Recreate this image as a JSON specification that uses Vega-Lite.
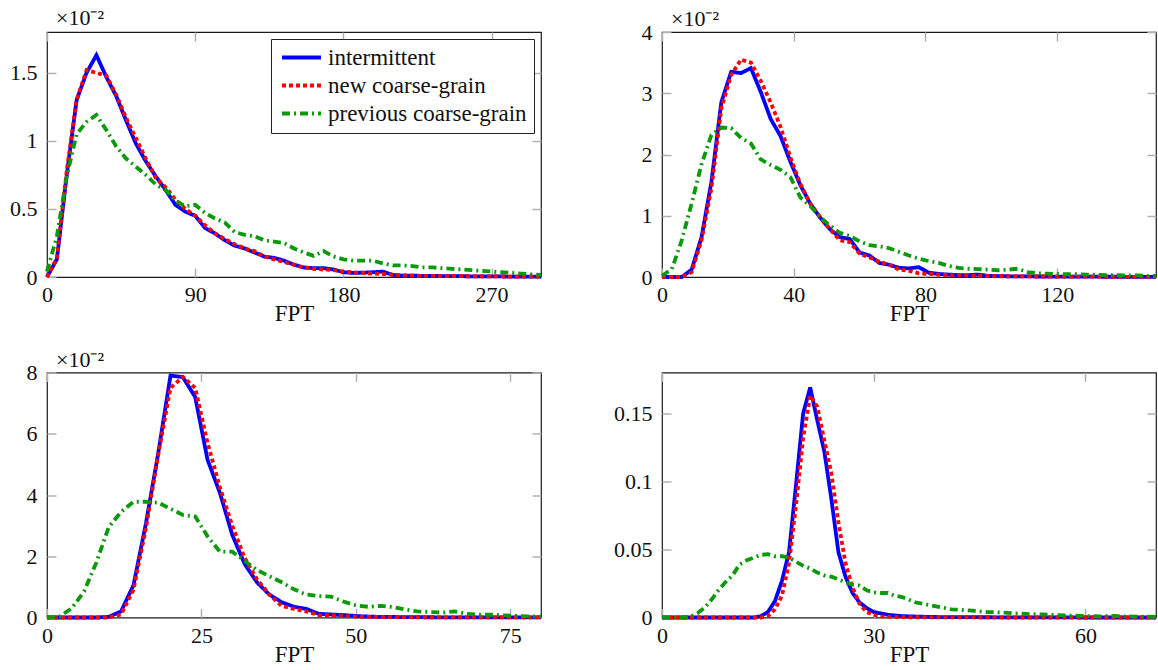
{
"$schema": "https://vega.github.io/schema/vega-lite/v6.json",
"padding": {"left": 8, "top": 6, "right": 0, "bottom": 0},
"datasets": {
"tl": [
{"series":"intermittent","FPT":0,"density":0},{"series":"intermittent","FPT":6,"density":0.13},{"series":"intermittent","FPT":12,"density":0.75},{"series":"intermittent","FPT":18,"density":1.3},{"series":"intermittent","FPT":24,"density":1.5},{"series":"intermittent","FPT":30,"density":1.63},{"series":"intermittent","FPT":36,"density":1.47},{"series":"intermittent","FPT":42,"density":1.33},{"series":"intermittent","FPT":48,"density":1.15},{"series":"intermittent","FPT":54,"density":0.98},{"series":"intermittent","FPT":60,"density":0.85},{"series":"intermittent","FPT":66,"density":0.74},{"series":"intermittent","FPT":72,"density":0.64},{"series":"intermittent","FPT":78,"density":0.53},{"series":"intermittent","FPT":84,"density":0.48},{"series":"intermittent","FPT":90,"density":0.45},{"series":"intermittent","FPT":96,"density":0.36},{"series":"intermittent","FPT":102,"density":0.32},{"series":"intermittent","FPT":108,"density":0.27},{"series":"intermittent","FPT":114,"density":0.23},{"series":"intermittent","FPT":120,"density":0.21},{"series":"intermittent","FPT":126,"density":0.18},{"series":"intermittent","FPT":132,"density":0.15},{"series":"intermittent","FPT":138,"density":0.14},{"series":"intermittent","FPT":144,"density":0.12},{"series":"intermittent","FPT":150,"density":0.09},{"series":"intermittent","FPT":156,"density":0.07},{"series":"intermittent","FPT":162,"density":0.065},{"series":"intermittent","FPT":168,"density":0.065},{"series":"intermittent","FPT":174,"density":0.055},{"series":"intermittent","FPT":180,"density":0.035},{"series":"intermittent","FPT":186,"density":0.03},{"series":"intermittent","FPT":192,"density":0.032},{"series":"intermittent","FPT":198,"density":0.035},{"series":"intermittent","FPT":204,"density":0.04},{"series":"intermittent","FPT":210,"density":0.015},{"series":"intermittent","FPT":216,"density":0.01},{"series":"intermittent","FPT":222,"density":0.01},{"series":"intermittent","FPT":228,"density":0.008},{"series":"intermittent","FPT":234,"density":0.008},{"series":"intermittent","FPT":240,"density":0.007},{"series":"intermittent","FPT":246,"density":0.006},{"series":"intermittent","FPT":252,"density":0.006},{"series":"intermittent","FPT":258,"density":0.005},{"series":"intermittent","FPT":264,"density":0.005},{"series":"intermittent","FPT":270,"density":0.004},{"series":"intermittent","FPT":276,"density":0.004},{"series":"intermittent","FPT":282,"density":0.003},{"series":"intermittent","FPT":288,"density":0.003},{"series":"intermittent","FPT":294,"density":0.003},{"series":"intermittent","FPT":300,"density":0.002},
{"series":"new coarse-grain","FPT":0,"density":0},{"series":"new coarse-grain","FPT":6,"density":0.14},{"series":"new coarse-grain","FPT":12,"density":0.78},{"series":"new coarse-grain","FPT":18,"density":1.3},{"series":"new coarse-grain","FPT":24,"density":1.52},{"series":"new coarse-grain","FPT":30,"density":1.5},{"series":"new coarse-grain","FPT":36,"density":1.48},{"series":"new coarse-grain","FPT":42,"density":1.34},{"series":"new coarse-grain","FPT":48,"density":1.17},{"series":"new coarse-grain","FPT":54,"density":1.02},{"series":"new coarse-grain","FPT":60,"density":0.87},{"series":"new coarse-grain","FPT":66,"density":0.73},{"series":"new coarse-grain","FPT":72,"density":0.66},{"series":"new coarse-grain","FPT":78,"density":0.57},{"series":"new coarse-grain","FPT":84,"density":0.5},{"series":"new coarse-grain","FPT":90,"density":0.45},{"series":"new coarse-grain","FPT":96,"density":0.38},{"series":"new coarse-grain","FPT":102,"density":0.32},{"series":"new coarse-grain","FPT":108,"density":0.28},{"series":"new coarse-grain","FPT":114,"density":0.24},{"series":"new coarse-grain","FPT":120,"density":0.21},{"series":"new coarse-grain","FPT":126,"density":0.19},{"series":"new coarse-grain","FPT":132,"density":0.15},{"series":"new coarse-grain","FPT":138,"density":0.13},{"series":"new coarse-grain","FPT":144,"density":0.11},{"series":"new coarse-grain","FPT":150,"density":0.09},{"series":"new coarse-grain","FPT":156,"density":0.07},{"series":"new coarse-grain","FPT":162,"density":0.06},{"series":"new coarse-grain","FPT":168,"density":0.055},{"series":"new coarse-grain","FPT":174,"density":0.05},{"series":"new coarse-grain","FPT":180,"density":0.04},{"series":"new coarse-grain","FPT":186,"density":0.035},{"series":"new coarse-grain","FPT":192,"density":0.03},{"series":"new coarse-grain","FPT":198,"density":0.025},{"series":"new coarse-grain","FPT":204,"density":0.022},{"series":"new coarse-grain","FPT":210,"density":0.018},{"series":"new coarse-grain","FPT":216,"density":0.012},{"series":"new coarse-grain","FPT":222,"density":0.01},{"series":"new coarse-grain","FPT":228,"density":0.008},{"series":"new coarse-grain","FPT":234,"density":0.008},{"series":"new coarse-grain","FPT":240,"density":0.007},{"series":"new coarse-grain","FPT":246,"density":0.006},{"series":"new coarse-grain","FPT":252,"density":0.006},{"series":"new coarse-grain","FPT":258,"density":0.005},{"series":"new coarse-grain","FPT":264,"density":0.005},{"series":"new coarse-grain","FPT":270,"density":0.004},{"series":"new coarse-grain","FPT":276,"density":0.004},{"series":"new coarse-grain","FPT":282,"density":0.003},{"series":"new coarse-grain","FPT":288,"density":0.003},{"series":"new coarse-grain","FPT":294,"density":0.003},{"series":"new coarse-grain","FPT":300,"density":0.002},
{"series":"previous coarse-grain","FPT":0,"density":0.04},{"series":"previous coarse-grain","FPT":6,"density":0.3},{"series":"previous coarse-grain","FPT":12,"density":0.74},{"series":"previous coarse-grain","FPT":18,"density":1.05},{"series":"previous coarse-grain","FPT":24,"density":1.14},{"series":"previous coarse-grain","FPT":30,"density":1.19},{"series":"previous coarse-grain","FPT":36,"density":1.08},{"series":"previous coarse-grain","FPT":42,"density":0.96},{"series":"previous coarse-grain","FPT":48,"density":0.87},{"series":"previous coarse-grain","FPT":54,"density":0.81},{"series":"previous coarse-grain","FPT":60,"density":0.75},{"series":"previous coarse-grain","FPT":66,"density":0.68},{"series":"previous coarse-grain","FPT":72,"density":0.64},{"series":"previous coarse-grain","FPT":78,"density":0.56},{"series":"previous coarse-grain","FPT":84,"density":0.52},{"series":"previous coarse-grain","FPT":90,"density":0.53},{"series":"previous coarse-grain","FPT":96,"density":0.47},{"series":"previous coarse-grain","FPT":102,"density":0.43},{"series":"previous coarse-grain","FPT":108,"density":0.4},{"series":"previous coarse-grain","FPT":114,"density":0.33},{"series":"previous coarse-grain","FPT":120,"density":0.31},{"series":"previous coarse-grain","FPT":126,"density":0.3},{"series":"previous coarse-grain","FPT":132,"density":0.27},{"series":"previous coarse-grain","FPT":138,"density":0.26},{"series":"previous coarse-grain","FPT":144,"density":0.25},{"series":"previous coarse-grain","FPT":150,"density":0.21},{"series":"previous coarse-grain","FPT":156,"density":0.18},{"series":"previous coarse-grain","FPT":162,"density":0.155},{"series":"previous coarse-grain","FPT":168,"density":0.19},{"series":"previous coarse-grain","FPT":174,"density":0.15},{"series":"previous coarse-grain","FPT":180,"density":0.13},{"series":"previous coarse-grain","FPT":186,"density":0.12},{"series":"previous coarse-grain","FPT":192,"density":0.12},{"series":"previous coarse-grain","FPT":198,"density":0.12},{"series":"previous coarse-grain","FPT":204,"density":0.1},{"series":"previous coarse-grain","FPT":210,"density":0.085},{"series":"previous coarse-grain","FPT":216,"density":0.085},{"series":"previous coarse-grain","FPT":222,"density":0.08},{"series":"previous coarse-grain","FPT":228,"density":0.07},{"series":"previous coarse-grain","FPT":234,"density":0.07},{"series":"previous coarse-grain","FPT":240,"density":0.065},{"series":"previous coarse-grain","FPT":246,"density":0.06},{"series":"previous coarse-grain","FPT":252,"density":0.055},{"series":"previous coarse-grain","FPT":258,"density":0.05},{"series":"previous coarse-grain","FPT":264,"density":0.045},{"series":"previous coarse-grain","FPT":270,"density":0.04},{"series":"previous coarse-grain","FPT":276,"density":0.035},{"series":"previous coarse-grain","FPT":282,"density":0.03},{"series":"previous coarse-grain","FPT":288,"density":0.025},{"series":"previous coarse-grain","FPT":294,"density":0.02},{"series":"previous coarse-grain","FPT":300,"density":0.015}
],
"tr": [
{"series":"intermittent","FPT":0,"density":0},{"series":"intermittent","FPT":3,"density":0},{"series":"intermittent","FPT":6,"density":0},{"series":"intermittent","FPT":9,"density":0.12},{"series":"intermittent","FPT":12,"density":0.65},{"series":"intermittent","FPT":15,"density":1.55},{"series":"intermittent","FPT":18,"density":2.85},{"series":"intermittent","FPT":21,"density":3.35},{"series":"intermittent","FPT":24,"density":3.33},{"series":"intermittent","FPT":27,"density":3.41},{"series":"intermittent","FPT":30,"density":3.02},{"series":"intermittent","FPT":33,"density":2.58},{"series":"intermittent","FPT":36,"density":2.3},{"series":"intermittent","FPT":39,"density":1.88},{"series":"intermittent","FPT":42,"density":1.5},{"series":"intermittent","FPT":45,"density":1.2},{"series":"intermittent","FPT":48,"density":0.97},{"series":"intermittent","FPT":51,"density":0.78},{"series":"intermittent","FPT":54,"density":0.65},{"series":"intermittent","FPT":57,"density":0.62},{"series":"intermittent","FPT":60,"density":0.4},{"series":"intermittent","FPT":63,"density":0.35},{"series":"intermittent","FPT":66,"density":0.23},{"series":"intermittent","FPT":69,"density":0.2},{"series":"intermittent","FPT":72,"density":0.15},{"series":"intermittent","FPT":75,"density":0.14},{"series":"intermittent","FPT":78,"density":0.16},{"series":"intermittent","FPT":81,"density":0.07},{"series":"intermittent","FPT":84,"density":0.05},{"series":"intermittent","FPT":87,"density":0.04},{"series":"intermittent","FPT":90,"density":0.03},{"series":"intermittent","FPT":93,"density":0.03},{"series":"intermittent","FPT":96,"density":0.04},{"series":"intermittent","FPT":99,"density":0.02},{"series":"intermittent","FPT":102,"density":0.015},{"series":"intermittent","FPT":105,"density":0.012},{"series":"intermittent","FPT":108,"density":0.01},{"series":"intermittent","FPT":111,"density":0.01},{"series":"intermittent","FPT":114,"density":0.008},{"series":"intermittent","FPT":117,"density":0.008},{"series":"intermittent","FPT":120,"density":0.007},{"series":"intermittent","FPT":123,"density":0.006},{"series":"intermittent","FPT":126,"density":0.006},{"series":"intermittent","FPT":129,"density":0.005},{"series":"intermittent","FPT":132,"density":0.005},{"series":"intermittent","FPT":135,"density":0.004},{"series":"intermittent","FPT":138,"density":0.004},{"series":"intermittent","FPT":141,"density":0.003},{"series":"intermittent","FPT":144,"density":0.003},{"series":"intermittent","FPT":147,"density":0.003},{"series":"intermittent","FPT":150,"density":0.002},
{"series":"new coarse-grain","FPT":0,"density":0},{"series":"new coarse-grain","FPT":3,"density":0},{"series":"new coarse-grain","FPT":6,"density":0},{"series":"new coarse-grain","FPT":9,"density":0.08},{"series":"new coarse-grain","FPT":12,"density":0.6},{"series":"new coarse-grain","FPT":15,"density":1.45},{"series":"new coarse-grain","FPT":18,"density":2.75},{"series":"new coarse-grain","FPT":21,"density":3.3},{"series":"new coarse-grain","FPT":24,"density":3.55},{"series":"new coarse-grain","FPT":27,"density":3.5},{"series":"new coarse-grain","FPT":30,"density":3.2},{"series":"new coarse-grain","FPT":33,"density":2.85},{"series":"new coarse-grain","FPT":36,"density":2.45},{"series":"new coarse-grain","FPT":39,"density":1.95},{"series":"new coarse-grain","FPT":42,"density":1.52},{"series":"new coarse-grain","FPT":45,"density":1.2},{"series":"new coarse-grain","FPT":48,"density":0.98},{"series":"new coarse-grain","FPT":51,"density":0.78},{"series":"new coarse-grain","FPT":54,"density":0.6},{"series":"new coarse-grain","FPT":57,"density":0.57},{"series":"new coarse-grain","FPT":60,"density":0.38},{"series":"new coarse-grain","FPT":63,"density":0.32},{"series":"new coarse-grain","FPT":66,"density":0.25},{"series":"new coarse-grain","FPT":69,"density":0.2},{"series":"new coarse-grain","FPT":72,"density":0.12},{"series":"new coarse-grain","FPT":75,"density":0.1},{"series":"new coarse-grain","FPT":78,"density":0.06},{"series":"new coarse-grain","FPT":81,"density":0.05},{"series":"new coarse-grain","FPT":84,"density":0.04},{"series":"new coarse-grain","FPT":87,"density":0.03},{"series":"new coarse-grain","FPT":90,"density":0.025},{"series":"new coarse-grain","FPT":93,"density":0.02},{"series":"new coarse-grain","FPT":96,"density":0.02},{"series":"new coarse-grain","FPT":99,"density":0.015},{"series":"new coarse-grain","FPT":102,"density":0.012},{"series":"new coarse-grain","FPT":105,"density":0.012},{"series":"new coarse-grain","FPT":108,"density":0.01},{"series":"new coarse-grain","FPT":111,"density":0.01},{"series":"new coarse-grain","FPT":114,"density":0.008},{"series":"new coarse-grain","FPT":117,"density":0.008},{"series":"new coarse-grain","FPT":120,"density":0.007},{"series":"new coarse-grain","FPT":123,"density":0.006},{"series":"new coarse-grain","FPT":126,"density":0.006},{"series":"new coarse-grain","FPT":129,"density":0.005},{"series":"new coarse-grain","FPT":132,"density":0.005},{"series":"new coarse-grain","FPT":135,"density":0.004},{"series":"new coarse-grain","FPT":138,"density":0.004},{"series":"new coarse-grain","FPT":141,"density":0.003},{"series":"new coarse-grain","FPT":144,"density":0.003},{"series":"new coarse-grain","FPT":147,"density":0.003},{"series":"new coarse-grain","FPT":150,"density":0.002},
{"series":"previous coarse-grain","FPT":0,"density":0.02},{"series":"previous coarse-grain","FPT":3,"density":0.13},{"series":"previous coarse-grain","FPT":6,"density":0.6},{"series":"previous coarse-grain","FPT":9,"density":1.2},{"series":"previous coarse-grain","FPT":12,"density":1.84},{"series":"previous coarse-grain","FPT":15,"density":2.32},{"series":"previous coarse-grain","FPT":18,"density":2.44},{"series":"previous coarse-grain","FPT":21,"density":2.43},{"series":"previous coarse-grain","FPT":24,"density":2.27},{"series":"previous coarse-grain","FPT":27,"density":2.18},{"series":"previous coarse-grain","FPT":30,"density":1.92},{"series":"previous coarse-grain","FPT":33,"density":1.83},{"series":"previous coarse-grain","FPT":36,"density":1.75},{"series":"previous coarse-grain","FPT":39,"density":1.63},{"series":"previous coarse-grain","FPT":42,"density":1.3},{"series":"previous coarse-grain","FPT":45,"density":1.16},{"series":"previous coarse-grain","FPT":48,"density":0.98},{"series":"previous coarse-grain","FPT":51,"density":0.84},{"series":"previous coarse-grain","FPT":54,"density":0.72},{"series":"previous coarse-grain","FPT":57,"density":0.67},{"series":"previous coarse-grain","FPT":60,"density":0.58},{"series":"previous coarse-grain","FPT":63,"density":0.52},{"series":"previous coarse-grain","FPT":66,"density":0.5},{"series":"previous coarse-grain","FPT":69,"density":0.47},{"series":"previous coarse-grain","FPT":72,"density":0.41},{"series":"previous coarse-grain","FPT":75,"density":0.35},{"series":"previous coarse-grain","FPT":78,"density":0.3},{"series":"previous coarse-grain","FPT":81,"density":0.26},{"series":"previous coarse-grain","FPT":84,"density":0.23},{"series":"previous coarse-grain","FPT":87,"density":0.18},{"series":"previous coarse-grain","FPT":90,"density":0.15},{"series":"previous coarse-grain","FPT":93,"density":0.135},{"series":"previous coarse-grain","FPT":96,"density":0.13},{"series":"previous coarse-grain","FPT":99,"density":0.12},{"series":"previous coarse-grain","FPT":102,"density":0.11},{"series":"previous coarse-grain","FPT":105,"density":0.12},{"series":"previous coarse-grain","FPT":108,"density":0.135},{"series":"previous coarse-grain","FPT":111,"density":0.08},{"series":"previous coarse-grain","FPT":114,"density":0.06},{"series":"previous coarse-grain","FPT":117,"density":0.055},{"series":"previous coarse-grain","FPT":120,"density":0.05},{"series":"previous coarse-grain","FPT":123,"density":0.045},{"series":"previous coarse-grain","FPT":126,"density":0.045},{"series":"previous coarse-grain","FPT":129,"density":0.04},{"series":"previous coarse-grain","FPT":132,"density":0.035},{"series":"previous coarse-grain","FPT":135,"density":0.03},{"series":"previous coarse-grain","FPT":138,"density":0.03},{"series":"previous coarse-grain","FPT":141,"density":0.025},{"series":"previous coarse-grain","FPT":144,"density":0.025},{"series":"previous coarse-grain","FPT":147,"density":0.02},{"series":"previous coarse-grain","FPT":150,"density":0.02}
],
"bl": [
{"series":"intermittent","FPT":0,"density":0},{"series":"intermittent","FPT":2,"density":0},{"series":"intermittent","FPT":4,"density":0},{"series":"intermittent","FPT":6,"density":0},{"series":"intermittent","FPT":8,"density":0},{"series":"intermittent","FPT":10,"density":0.02},{"series":"intermittent","FPT":12,"density":0.2},{"series":"intermittent","FPT":14,"density":1.05},{"series":"intermittent","FPT":16,"density":3.05},{"series":"intermittent","FPT":18,"density":5.35},{"series":"intermittent","FPT":20,"density":7.9},{"series":"intermittent","FPT":22,"density":7.85},{"series":"intermittent","FPT":24,"density":7.2},{"series":"intermittent","FPT":26,"density":5.15},{"series":"intermittent","FPT":28,"density":4.07},{"series":"intermittent","FPT":30,"density":2.7},{"series":"intermittent","FPT":32,"density":1.75},{"series":"intermittent","FPT":34,"density":1.15},{"series":"intermittent","FPT":36,"density":0.75},{"series":"intermittent","FPT":38,"density":0.5},{"series":"intermittent","FPT":40,"density":0.35},{"series":"intermittent","FPT":42,"density":0.28},{"series":"intermittent","FPT":44,"density":0.12},{"series":"intermittent","FPT":46,"density":0.1},{"series":"intermittent","FPT":48,"density":0.08},{"series":"intermittent","FPT":50,"density":0.05},{"series":"intermittent","FPT":52,"density":0.03},{"series":"intermittent","FPT":54,"density":0.02},{"series":"intermittent","FPT":56,"density":0.02},{"series":"intermittent","FPT":58,"density":0.01},{"series":"intermittent","FPT":60,"density":0.01},{"series":"intermittent","FPT":62,"density":0.008},{"series":"intermittent","FPT":64,"density":0.006},{"series":"intermittent","FPT":66,"density":0.005},{"series":"intermittent","FPT":68,"density":0.005},{"series":"intermittent","FPT":70,"density":0.004},{"series":"intermittent","FPT":72,"density":0.004},{"series":"intermittent","FPT":74,"density":0.003},{"series":"intermittent","FPT":76,"density":0.003},{"series":"intermittent","FPT":78,"density":0.002},{"series":"intermittent","FPT":80,"density":0.002},
{"series":"new coarse-grain","FPT":0,"density":0},{"series":"new coarse-grain","FPT":2,"density":0},{"series":"new coarse-grain","FPT":4,"density":0},{"series":"new coarse-grain","FPT":6,"density":0},{"series":"new coarse-grain","FPT":8,"density":0},{"series":"new coarse-grain","FPT":10,"density":0},{"series":"new coarse-grain","FPT":12,"density":0.1},{"series":"new coarse-grain","FPT":14,"density":0.9},{"series":"new coarse-grain","FPT":16,"density":2.9},{"series":"new coarse-grain","FPT":18,"density":5.3},{"series":"new coarse-grain","FPT":20,"density":7.5},{"series":"new coarse-grain","FPT":22,"density":7.85},{"series":"new coarse-grain","FPT":24,"density":7.5},{"series":"new coarse-grain","FPT":26,"density":5.7},{"series":"new coarse-grain","FPT":28,"density":4.25},{"series":"new coarse-grain","FPT":30,"density":3.0},{"series":"new coarse-grain","FPT":32,"density":1.95},{"series":"new coarse-grain","FPT":34,"density":1.25},{"series":"new coarse-grain","FPT":36,"density":0.75},{"series":"new coarse-grain","FPT":38,"density":0.38},{"series":"new coarse-grain","FPT":40,"density":0.28},{"series":"new coarse-grain","FPT":42,"density":0.2},{"series":"new coarse-grain","FPT":44,"density":0.08},{"series":"new coarse-grain","FPT":46,"density":0.07},{"series":"new coarse-grain","FPT":48,"density":0.05},{"series":"new coarse-grain","FPT":50,"density":0.03},{"series":"new coarse-grain","FPT":52,"density":0.02},{"series":"new coarse-grain","FPT":54,"density":0.015},{"series":"new coarse-grain","FPT":56,"density":0.01},{"series":"new coarse-grain","FPT":58,"density":0.01},{"series":"new coarse-grain","FPT":60,"density":0.008},{"series":"new coarse-grain","FPT":62,"density":0.007},{"series":"new coarse-grain","FPT":64,"density":0.006},{"series":"new coarse-grain","FPT":66,"density":0.005},{"series":"new coarse-grain","FPT":68,"density":0.005},{"series":"new coarse-grain","FPT":70,"density":0.004},{"series":"new coarse-grain","FPT":72,"density":0.004},{"series":"new coarse-grain","FPT":74,"density":0.003},{"series":"new coarse-grain","FPT":76,"density":0.003},{"series":"new coarse-grain","FPT":78,"density":0.002},{"series":"new coarse-grain","FPT":80,"density":0.002},
{"series":"previous coarse-grain","FPT":0,"density":0},{"series":"previous coarse-grain","FPT":2,"density":0.03},{"series":"previous coarse-grain","FPT":4,"density":0.3},{"series":"previous coarse-grain","FPT":6,"density":0.85},{"series":"previous coarse-grain","FPT":8,"density":1.8},{"series":"previous coarse-grain","FPT":10,"density":2.95},{"series":"previous coarse-grain","FPT":12,"density":3.45},{"series":"previous coarse-grain","FPT":14,"density":3.78},{"series":"previous coarse-grain","FPT":16,"density":3.78},{"series":"previous coarse-grain","FPT":18,"density":3.75},{"series":"previous coarse-grain","FPT":20,"density":3.55},{"series":"previous coarse-grain","FPT":22,"density":3.35},{"series":"previous coarse-grain","FPT":24,"density":3.3},{"series":"previous coarse-grain","FPT":26,"density":2.65},{"series":"previous coarse-grain","FPT":28,"density":2.15},{"series":"previous coarse-grain","FPT":30,"density":2.15},{"series":"previous coarse-grain","FPT":32,"density":1.85},{"series":"previous coarse-grain","FPT":34,"density":1.55},{"series":"previous coarse-grain","FPT":36,"density":1.35},{"series":"previous coarse-grain","FPT":38,"density":1.15},{"series":"previous coarse-grain","FPT":40,"density":0.92},{"series":"previous coarse-grain","FPT":42,"density":0.75},{"series":"previous coarse-grain","FPT":44,"density":0.7},{"series":"previous coarse-grain","FPT":46,"density":0.68},{"series":"previous coarse-grain","FPT":48,"density":0.52},{"series":"previous coarse-grain","FPT":50,"density":0.4},{"series":"previous coarse-grain","FPT":52,"density":0.35},{"series":"previous coarse-grain","FPT":54,"density":0.38},{"series":"previous coarse-grain","FPT":56,"density":0.34},{"series":"previous coarse-grain","FPT":58,"density":0.26},{"series":"previous coarse-grain","FPT":60,"density":0.2},{"series":"previous coarse-grain","FPT":62,"density":0.18},{"series":"previous coarse-grain","FPT":64,"density":0.16},{"series":"previous coarse-grain","FPT":66,"density":0.2},{"series":"previous coarse-grain","FPT":68,"density":0.12},{"series":"previous coarse-grain","FPT":70,"density":0.09},{"series":"previous coarse-grain","FPT":72,"density":0.09},{"series":"previous coarse-grain","FPT":74,"density":0.07},{"series":"previous coarse-grain","FPT":76,"density":0.05},{"series":"previous coarse-grain","FPT":78,"density":0.04},{"series":"previous coarse-grain","FPT":80,"density":0.03}
],
"br": [
{"series":"intermittent","FPT":0,"density":0},{"series":"intermittent","FPT":5,"density":0},{"series":"intermittent","FPT":10,"density":0},{"series":"intermittent","FPT":13,"density":0},{"series":"intermittent","FPT":14,"density":0.001},{"series":"intermittent","FPT":15,"density":0.004},{"series":"intermittent","FPT":16,"density":0.012},{"series":"intermittent","FPT":17,"density":0.027},{"series":"intermittent","FPT":18,"density":0.048},{"series":"intermittent","FPT":19,"density":0.098},{"series":"intermittent","FPT":20,"density":0.15},{"series":"intermittent","FPT":21,"density":0.169},{"series":"intermittent","FPT":22,"density":0.145},{"series":"intermittent","FPT":23,"density":0.122},{"series":"intermittent","FPT":24,"density":0.087},{"series":"intermittent","FPT":25,"density":0.048},{"series":"intermittent","FPT":26,"density":0.03},{"series":"intermittent","FPT":27,"density":0.018},{"series":"intermittent","FPT":28,"density":0.011},{"series":"intermittent","FPT":29,"density":0.007},{"series":"intermittent","FPT":30,"density":0.004},{"series":"intermittent","FPT":31,"density":0.003},{"series":"intermittent","FPT":32,"density":0.002},{"series":"intermittent","FPT":33,"density":0.0015},{"series":"intermittent","FPT":34,"density":0.001},{"series":"intermittent","FPT":36,"density":0.0007},{"series":"intermittent","FPT":38,"density":0.0004},{"series":"intermittent","FPT":40,"density":0.0003},{"series":"intermittent","FPT":45,"density":0.0002},{"series":"intermittent","FPT":50,"density":0.0001},{"series":"intermittent","FPT":55,"density":0.0001},{"series":"intermittent","FPT":60,"density":0},{"series":"intermittent","FPT":65,"density":0},{"series":"intermittent","FPT":70,"density":0},
{"series":"new coarse-grain","FPT":0,"density":0},{"series":"new coarse-grain","FPT":5,"density":0},{"series":"new coarse-grain","FPT":10,"density":0},{"series":"new coarse-grain","FPT":14,"density":0},{"series":"new coarse-grain","FPT":15,"density":0.001},{"series":"new coarse-grain","FPT":16,"density":0.006},{"series":"new coarse-grain","FPT":17,"density":0.016},{"series":"new coarse-grain","FPT":18,"density":0.04},{"series":"new coarse-grain","FPT":19,"density":0.083},{"series":"new coarse-grain","FPT":20,"density":0.132},{"series":"new coarse-grain","FPT":21,"density":0.163},{"series":"new coarse-grain","FPT":22,"density":0.155},{"series":"new coarse-grain","FPT":23,"density":0.13},{"series":"new coarse-grain","FPT":24,"density":0.106},{"series":"new coarse-grain","FPT":25,"density":0.07},{"series":"new coarse-grain","FPT":26,"density":0.04},{"series":"new coarse-grain","FPT":27,"density":0.022},{"series":"new coarse-grain","FPT":28,"density":0.01},{"series":"new coarse-grain","FPT":29,"density":0.004},{"series":"new coarse-grain","FPT":30,"density":0.002},{"series":"new coarse-grain","FPT":31,"density":0.001},{"series":"new coarse-grain","FPT":32,"density":0.0005},{"series":"new coarse-grain","FPT":35,"density":0.0002},{"series":"new coarse-grain","FPT":40,"density":0.0001},{"series":"new coarse-grain","FPT":50,"density":0},{"series":"new coarse-grain","FPT":60,"density":0},{"series":"new coarse-grain","FPT":70,"density":0},
{"series":"previous coarse-grain","FPT":0,"density":0},{"series":"previous coarse-grain","FPT":2,"density":0},{"series":"previous coarse-grain","FPT":3,"density":0},{"series":"previous coarse-grain","FPT":4,"density":0.0005},{"series":"previous coarse-grain","FPT":5,"density":0.003},{"series":"previous coarse-grain","FPT":6,"density":0.007},{"series":"previous coarse-grain","FPT":7,"density":0.013},{"series":"previous coarse-grain","FPT":8,"density":0.02},{"series":"previous coarse-grain","FPT":9,"density":0.026},{"series":"previous coarse-grain","FPT":10,"density":0.031},{"series":"previous coarse-grain","FPT":11,"density":0.039},{"series":"previous coarse-grain","FPT":12,"density":0.042},{"series":"previous coarse-grain","FPT":13,"density":0.044},{"series":"previous coarse-grain","FPT":14,"density":0.046},{"series":"previous coarse-grain","FPT":15,"density":0.0465},{"series":"previous coarse-grain","FPT":16,"density":0.045},{"series":"previous coarse-grain","FPT":17,"density":0.045},{"series":"previous coarse-grain","FPT":18,"density":0.044},{"series":"previous coarse-grain","FPT":19,"density":0.041},{"series":"previous coarse-grain","FPT":20,"density":0.038},{"series":"previous coarse-grain","FPT":21,"density":0.036},{"series":"previous coarse-grain","FPT":22,"density":0.033},{"series":"previous coarse-grain","FPT":23,"density":0.031},{"series":"previous coarse-grain","FPT":24,"density":0.03},{"series":"previous coarse-grain","FPT":25,"density":0.028},{"series":"previous coarse-grain","FPT":26,"density":0.026},{"series":"previous coarse-grain","FPT":27,"density":0.024},{"series":"previous coarse-grain","FPT":28,"density":0.0235},{"series":"previous coarse-grain","FPT":29,"density":0.02},{"series":"previous coarse-grain","FPT":30,"density":0.0185},{"series":"previous coarse-grain","FPT":31,"density":0.018},{"series":"previous coarse-grain","FPT":32,"density":0.018},{"series":"previous coarse-grain","FPT":33,"density":0.016},{"series":"previous coarse-grain","FPT":34,"density":0.015},{"series":"previous coarse-grain","FPT":35,"density":0.013},{"series":"previous coarse-grain","FPT":36,"density":0.011},{"series":"previous coarse-grain","FPT":37,"density":0.01},{"series":"previous coarse-grain","FPT":38,"density":0.009},{"series":"previous coarse-grain","FPT":39,"density":0.008},{"series":"previous coarse-grain","FPT":40,"density":0.007},{"series":"previous coarse-grain","FPT":41,"density":0.006},{"series":"previous coarse-grain","FPT":42,"density":0.0057},{"series":"previous coarse-grain","FPT":43,"density":0.0053},{"series":"previous coarse-grain","FPT":44,"density":0.005},{"series":"previous coarse-grain","FPT":45,"density":0.0045},{"series":"previous coarse-grain","FPT":46,"density":0.004},{"series":"previous coarse-grain","FPT":47,"density":0.004},{"series":"previous coarse-grain","FPT":48,"density":0.0036},{"series":"previous coarse-grain","FPT":49,"density":0.0034},{"series":"previous coarse-grain","FPT":50,"density":0.003},{"series":"previous coarse-grain","FPT":52,"density":0.0025},{"series":"previous coarse-grain","FPT":54,"density":0.0022},{"series":"previous coarse-grain","FPT":56,"density":0.0018},{"series":"previous coarse-grain","FPT":58,"density":0.0014},{"series":"previous coarse-grain","FPT":60,"density":0.0011},{"series":"previous coarse-grain","FPT":62,"density":0.0008},{"series":"previous coarse-grain","FPT":64,"density":0.0011},{"series":"previous coarse-grain","FPT":66,"density":0.0008},{"series":"previous coarse-grain","FPT":68,"density":0.0006},{"series":"previous coarse-grain","FPT":70,"density":0.0005}
]
},
"columns": 2,
"align": "all",
"spacing": {"row": 20.5, "column": 62},
"concat": [
{
"width": 494, "height": 245,
"data": {"name": "tl"},
"title": {"text": "×10⁻²", "offset": 1},
"layer": [
{"mark": {"type": "line", "strokeWidth": 3.8, "clip": false},
"encoding": {
"x": {"field": "FPT", "type": "quantitative", "scale": {"domain": [0, 300], "nice": false}, "axis": {"orient": "bottom", "values": [0, 90, 180, 270], "labelExpr": "toString(datum.value)", "title": "FPT"}},
"y": {"field": "density", "type": "quantitative", "scale": {"domain": [0, 1.8], "nice": false}, "axis": {"orient": "left", "values": [0, 0.5, 1, 1.5], "labelExpr": "toString(datum.value)", "title": null}},
"color": {"field": "series", "type": "nominal", "sort": ["intermittent", "new coarse-grain", "previous coarse-grain"], "scale": {"domain": ["intermittent", "new coarse-grain", "previous coarse-grain"], "range": ["#0000ff", "#ff0000", "#0a990a"]}, "legend": {"title": null}},
"strokeDash": {"field": "series", "type": "nominal", "sort": ["intermittent", "new coarse-grain", "previous coarse-grain"], "scale": {"domain": ["intermittent", "new coarse-grain", "previous coarse-grain"], "range": [[1, 0], [4, 3], [8, 4, 2, 4]]}, "legend": {"title": null}}
}},
{"mark": {"type": "point", "opacity": 0},
"encoding": {
"x": {"field": "FPT", "type": "quantitative", "axis": {"orient": "top", "values": [0, 90, 180, 270], "labels": false, "title": null}},
"y": {"field": "density", "type": "quantitative", "axis": {"orient": "right", "values": [0, 0.5, 1, 1.5], "labels": false, "title": null}}
}}
],
"resolve": {"axis": {"x": "independent", "y": "independent"}}
},
{
"width": 494, "height": 245,
"data": {"name": "tr"},
"title": {"text": "×10⁻²", "offset": -10},
"layer": [
{"mark": {"type": "line", "strokeWidth": 3.8, "clip": false},
"encoding": {
"x": {"field": "FPT", "type": "quantitative", "scale": {"domain": [0, 150], "nice": false}, "axis": {"orient": "bottom", "values": [0, 40, 80, 120], "labelExpr": "toString(datum.value)", "title": "FPT"}},
"y": {"field": "density", "type": "quantitative", "scale": {"domain": [0, 4], "nice": false}, "axis": {"orient": "left", "values": [0, 1, 2, 3, 4], "labelExpr": "toString(datum.value)", "title": null}},
"color": {"field": "series", "type": "nominal", "sort": ["intermittent", "new coarse-grain", "previous coarse-grain"], "scale": {"domain": ["intermittent", "new coarse-grain", "previous coarse-grain"], "range": ["#0000ff", "#ff0000", "#0a990a"]}, "legend": null},
"strokeDash": {"field": "series", "type": "nominal", "sort": ["intermittent", "new coarse-grain", "previous coarse-grain"], "scale": {"domain": ["intermittent", "new coarse-grain", "previous coarse-grain"], "range": [[1, 0], [4, 3], [8, 4, 2, 4]]}, "legend": null}
}},
{"mark": {"type": "point", "opacity": 0},
"encoding": {
"x": {"field": "FPT", "type": "quantitative", "axis": {"orient": "top", "values": [0, 40, 80, 120], "labels": false, "title": null}},
"y": {"field": "density", "type": "quantitative", "axis": {"orient": "right", "values": [0, 1, 2, 3, 4], "labels": false, "title": null}}
}}
],
"resolve": {"axis": {"x": "independent", "y": "independent"}}
},
{
"width": 494, "height": 245,
"data": {"name": "bl"},
"title": {"text": "×10⁻²", "offset": -10},
"layer": [
{"mark": {"type": "line", "strokeWidth": 3.8, "clip": false},
"encoding": {
"x": {"field": "FPT", "type": "quantitative", "scale": {"domain": [0, 80], "nice": false}, "axis": {"orient": "bottom", "values": [0, 25, 50, 75], "labelExpr": "toString(datum.value)", "title": "FPT"}},
"y": {"field": "density", "type": "quantitative", "scale": {"domain": [0, 8], "nice": false}, "axis": {"orient": "left", "values": [0, 2, 4, 6, 8], "labelExpr": "toString(datum.value)", "title": null}},
"color": {"field": "series", "type": "nominal", "sort": ["intermittent", "new coarse-grain", "previous coarse-grain"], "scale": {"domain": ["intermittent", "new coarse-grain", "previous coarse-grain"], "range": ["#0000ff", "#ff0000", "#0a990a"]}, "legend": null},
"strokeDash": {"field": "series", "type": "nominal", "sort": ["intermittent", "new coarse-grain", "previous coarse-grain"], "scale": {"domain": ["intermittent", "new coarse-grain", "previous coarse-grain"], "range": [[1, 0], [4, 3], [8, 4, 2, 4]]}, "legend": null}
}},
{"mark": {"type": "point", "opacity": 0},
"encoding": {
"x": {"field": "FPT", "type": "quantitative", "axis": {"orient": "top", "values": [0, 25, 50, 75], "labels": false, "title": null}},
"y": {"field": "density", "type": "quantitative", "axis": {"orient": "right", "values": [0, 2, 4, 6, 8], "labels": false, "title": null}}
}}
],
"resolve": {"axis": {"x": "independent", "y": "independent"}}
},
{
"width": 494, "height": 245,
"data": {"name": "br"},
"layer": [
{"mark": {"type": "line", "strokeWidth": 3.8, "clip": false},
"encoding": {
"x": {"field": "FPT", "type": "quantitative", "scale": {"domain": [0, 70], "nice": false}, "axis": {"orient": "bottom", "values": [0, 30, 60], "labelExpr": "toString(datum.value)", "title": "FPT"}},
"y": {"field": "density", "type": "quantitative", "scale": {"domain": [0, 0.18], "nice": false}, "axis": {"orient": "left", "values": [0, 0.05, 0.1, 0.15], "labelExpr": "toString(datum.value)", "title": null}},
"color": {"field": "series", "type": "nominal", "sort": ["intermittent", "new coarse-grain", "previous coarse-grain"], "scale": {"domain": ["intermittent", "new coarse-grain", "previous coarse-grain"], "range": ["#0000ff", "#ff0000", "#0a990a"]}, "legend": null},
"strokeDash": {"field": "series", "type": "nominal", "sort": ["intermittent", "new coarse-grain", "previous coarse-grain"], "scale": {"domain": ["intermittent", "new coarse-grain", "previous coarse-grain"], "range": [[1, 0], [4, 3], [8, 4, 2, 4]]}, "legend": null}
}},
{"mark": {"type": "point", "opacity": 0},
"encoding": {
"x": {"field": "FPT", "type": "quantitative", "axis": {"orient": "top", "values": [0, 30, 60], "labels": false, "title": null}},
"y": {"field": "density", "type": "quantitative", "axis": {"orient": "right", "values": [0, 0.05, 0.1, 0.15], "labels": false, "title": null}}
}}
],
"resolve": {"axis": {"x": "independent", "y": "independent"}}
}
],
"resolve": {"scale": {"color": "independent", "strokeDash": "independent"}, "legend": {"color": "independent", "strokeDash": "independent"}},
"config": {
"font": "Liberation Serif",
"view": {"stroke": "#1a1a1a", "strokeWidth": 1.2},
"style": {"guide-label": {"font": "Liberation Serif"}, "guide-title": {"font": "Liberation Serif"}, "group-title": {"font": "Liberation Serif"}},
"axis": {"domain": false, "grid": false, "tickSize": -9, "tickColor": "#b0b0b0", "tickWidth": 1.5, "labelFont": "Liberation Serif", "labelFontSize": 22, "labelColor": "#111111", "labelFlush": false, "titleFont": "Liberation Serif", "titleFontSize": 23, "titleFontWeight": "normal", "titleColor": "#111111"},
"axisX": {"labelPadding": 16.5, "titlePadding": -3},
"axisY": {"labelPadding": 19},
"legend": {"orient": "top-right", "offset": 7, "strokeColor": "#222222", "fillColor": "white", "padding": 7, "labelFont": "Liberation Serif", "labelFontSize": 23, "labelColor": "#111111", "labelLimit": 0, "symbolType": "M-3,0H3", "symbolSize": 169, "symbolStrokeWidth": 4, "symbolOffset": 12, "labelOffset": 15, "rowPadding": 4},
"title": {"font": "Liberation Serif", "fontSize": 22, "fontWeight": "normal", "anchor": "start", "frame": "group", "dx": 9, "color": "#111111", "baseline": "alphabetic"}
}
}
